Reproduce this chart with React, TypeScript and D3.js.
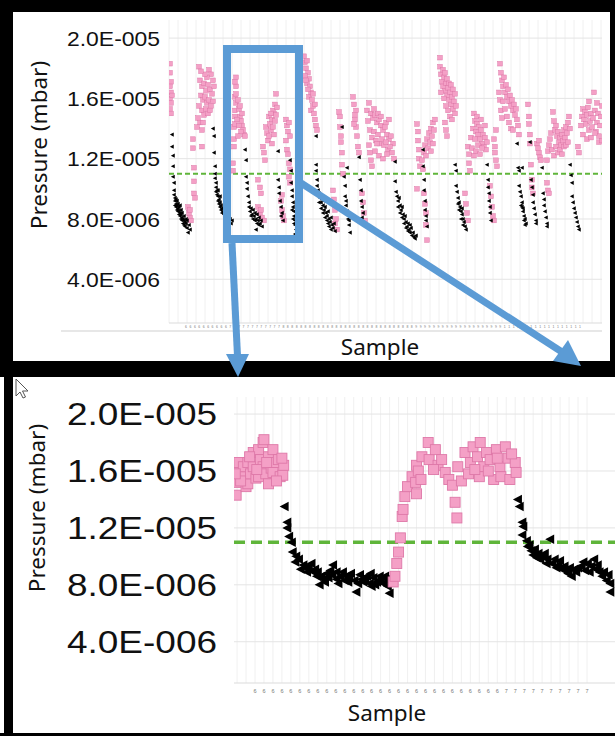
import React, { useEffect, useRef } from "react";
import * as d3 from "d3";

// pressure values are in units of 1E-006 mbar
const yTicks = [4, 8, 12, 16, 20];
const yTickLabels = ["4.0E-006", "8.0E-006", "1.2E-005", "1.6E-005", "2.0E-005"];
const threshold = 11;

const topTickLabels = (
  "6 6 6 6 6 6 6 6 6 6 7 7 7 7 7 7 7 7 7 7 7 7 8 8 8 8 8 8 8 8 8 8 8 8 8 8 8 8 8 8 8 8 8 8 8 8 8 8 8 8 8 8 " +
  "9 9 9 9 9 9 9 9 9 9 9 9 9 9 9 9 9 9 9 9 1 1 1 1 1 1 1 1 1 1 1 1 1 1 1 1 1 1"
).split(" ");
const zoomTickLabels = (
  "6 6 6 6 6 6 6 6 6 6 6 6 6 6 6 6 6 6 6 6 6 6 6 6 6 6 6 6 7 7 7 7 7 7 7 7 7 7"
).split(" ");

// full run: [sample, pressure]
const topPinkPoints = [
  [1,18.3],[1,17.7],[2,17.1],[1,16.8],[2,16.4],[1,16.0],[2,15.7],[1,15.3],[2,15.0],[3,16.2],
  [19,8.8],[20,8.4],[21,8.1],[22,7.9],[21,8.6],[24,13.3],[24,12.7],[25,11.4],[25,10.5],[25,9.7],[26,9.4],
  [30,18.1],[40,17.9],[42,17.6],[38,17.4],[31,17.2],[33,16.8],[35,17.0],[37,16.5],[39,16.9],[41,16.6],
  [43,16.3],[32,16.2],[34,15.9],[36,16.1],[38,15.7],[40,15.9],[42,15.5],[44,15.8],[30,15.5],[33,15.2],
  [35,14.9],[37,15.3],[39,15.0],[29,14.7],[31,14.4],[28,14.1],[34,14.4],[45,16.8],[44,17.2],[36,17.6],
  [32,17.8],[41,15.2],[33,13.9],[33,12.8],
  [64,11.2],[64,11.7],[65,12.8],[65,13.3],[65,14.1],[66,14.3],[66,14.8],[66,15.2],[67,15.7],[66,16.1],
  [67,16.3],[67,16.8],[66,17.1],[67,17.4],[69,15.9],[70,15.3],[71,14.8],[72,14.5],[73,14.2],[74,13.9],
  [75,13.6],[70,14.2],[72,13.8],[68,14.6],[69,13.5],[71,15.5],[73,15.0],[76,13.5],
  [89,8.8],[91,8.4],[93,8.1],[95,7.9],[92,8.6],[89,10.6],[91,10.1],[92,9.7],
  [94,12.8],[95,12.4],[96,11.9],[97,14.1],[98,13.7],[99,13.2],[100,14.8],[101,14.3],[102,13.9],[103,14.6],
  [104,15.2],[105,15.0],[106,15.6],[107,16.3],[104,14.1],[106,14.5],[108,15.4],[102,15.0],[105,13.6],
  [107,14.9],[100,13.5],[103,13.0],
  [112,9.2],[113,8.6],[114,8.2],[115,7.9],[113,9.6],
  [117,14.6],[118,14.2],[119,13.8],[120,14.4],[121,13.5],[118,12.6],[119,12.3],[120,11.7],[121,11.3],
  [120,10.8],[121,10.4],[117,13.2],
  [135,18.8],[136,18.4],[137,18.0],[138,18.5],[139,17.7],[140,17.3],[136,17.5],[138,17.0],[141,16.8],
  [142,16.4],[140,16.1],[143,15.9],[144,15.5],[142,15.2],[145,15.0],[146,14.6],[147,14.2],[148,13.9],
  [139,16.6],[144,16.3],[137,17.2],[146,15.6],
  [164,9.9],[165,9.3],[166,8.6],[167,8.0],[168,7.3],[166,7.7],
  [170,15.1],[171,14.8],[171,14.1],[172,13.5],[172,13.1],[173,12.4],[173,11.6],[174,11.0],
  [184,16.1],[185,15.6],[186,14.9],[186,14.6],[187,14.1],[188,13.5],[189,12.8],[190,12.4],[185,14.3],[187,15.2],
  [193,9.7],[194,9.1],[195,8.4],[196,7.9],
  [200,15.7],[198,15.2],[202,15.0],[204,14.7],[206,14.9],[208,14.4],[210,14.6],[212,14.2],[214,13.9],
  [216,14.1],[218,13.6],[220,13.3],[222,13.5],[224,13.0],[199,14.5],[201,13.9],[203,13.4],[205,13.8],
  [207,13.2],[209,13.6],[211,13.0],[213,13.3],[215,12.9],[217,13.1],[219,12.6],[221,12.8],[223,12.4],
  [225,12.0],[200,12.9],[201,12.4],[202,11.9],[203,11.5],[206,12.5],[210,12.2],[214,12.0],[205,15.3],
  [209,15.0],[212,14.8],[217,14.4],[220,14.6],[208,13.0],[218,12.3],
  [248,14.3],[249,13.8],[249,13.2],[250,12.6],[250,12.0],[251,11.5],[248,10.0],
  [253,11.9],[255,12.4],[256,12.9],[258,13.3],[259,12.7],[260,13.7],[261,13.1],[262,14.0],[263,13.5],
  [264,14.4],[265,13.9],[266,14.6],[257,12.2],[254,11.3],[262,12.5],[264,13.0],
  [255,9.7],[256,9.0],[257,8.4],[257,7.6],[258,6.6],
  [271,18.7],[271,18.1],[272,17.6],[273,17.1],[274,16.8],[275,17.4],[276,16.5],[277,17.0],[278,16.2],
  [279,16.7],[280,15.9],[281,16.4],[282,15.6],[283,16.1],[284,15.3],[285,15.8],[286,15.0],[287,15.5],
  [274,17.9],[276,17.7],[278,17.3],[280,17.0],[282,16.9],[284,16.6],[286,16.3],[275,16.0],[277,15.5],
  [279,15.2],[281,14.8],[283,14.6],[276,14.4],[277,13.9],[278,13.5],[272,16.4],
  [296,9.7],[297,9.0],[298,8.4],[299,7.9],
  [299,12.8],[300,12.3],[300,11.7],[301,11.2],[302,13.4],[304,14.0],[305,15.0],[306,14.5],[307,13.8],
  [308,14.3],[309,13.6],[310,14.1],[311,13.3],[312,13.9],[313,13.0],[314,13.6],[315,12.8],[316,13.4],
  [317,12.6],[318,13.1],[303,12.7],[305,12.2],[307,12.5],[309,12.9],[311,12.3],[313,12.7],[306,13.3],
  [308,14.8],[312,14.6],[316,14.2],
  [321,10.2],[322,9.5],[323,8.8],[324,8.2],[325,7.9],
  [325,13.3],[326,12.8],[326,12.4],[327,11.9],[328,11.5],[327,13.9],
  [331,18.3],[332,17.7],[333,17.2],[334,16.8],[335,17.4],[336,16.4],[337,16.9],[338,16.1],[339,16.6],
  [340,15.8],[341,16.2],[342,15.5],[343,15.9],[344,15.2],[345,15.6],[346,14.9],[347,15.3],[348,14.6],
  [349,14.2],[350,13.6],[330,16.4],[331,15.9],[332,15.2],[333,14.7],[334,15.8],[336,15.3],[338,14.8],
  [340,14.4],[342,14.0],[344,13.9],
  [359,15.6],[360,14.8],[360,14.3],[361,13.6],[361,13.0],[362,11.6],[363,10.6],[363,10.1],[364,9.7],
  [368,13.0],[369,12.7],[370,12.4],[371,12.1],[372,11.9],[370,13.2],
  [378,11.9],[379,12.5],[380,12.9],[381,13.3],[382,13.7],[384,15.1],[385,14.5],[386,13.9],[387,14.2],
  [388,13.5],[389,13.8],[390,13.1],[391,13.4],[392,12.9],[393,13.6],[394,13.2],[395,13.9],[396,13.4],
  [397,14.1],[398,13.7],[399,14.4],[400,14.8],[401,14.0],[383,12.6],[385,12.2],[387,12.8],[389,12.4],
  [391,12.6],[393,12.3],[395,12.8],[397,12.9],[399,13.1],[378,10.4],[379,9.9],[380,9.7],
  [409,12.8],[410,12.4],
  [412,14.2],[413,14.8],[414,15.3],[415,14.6],[416,15.1],[417,14.3],[418,14.9],[419,15.4],[420,13.9],
  [421,14.5],[422,15.0],[423,14.1],[424,14.7],[425,16.4],[426,15.2],[427,13.8],[428,14.4],[429,15.0],
  [430,13.5],[431,14.2],[432,14.8],[433,15.5],[414,13.6],[418,13.3],[422,13.4],[426,13.7],[430,13.1],
  [420,15.8],[428,15.7],[433,13.2],
];

const topBlackPoints = [
  [3,13.6],[3,12.8],[4,12.2],[4,11.5],[4,10.8],[5,10.4],[5,9.9],[5,9.6],[6,9.4],[6,9.2],[7,9.0],[7,9.3],
  [7,8.8],[8,8.9],[8,8.6],[9,8.7],[9,8.5],[9,9.0],[10,8.5],[10,8.3],[10,8.8],[11,8.4],[11,8.2],[12,8.3],
  [12,8.0],[12,8.6],[13,8.1],[13,7.9],[13,8.4],[14,8.0],[14,7.7],[15,7.9],[15,8.2],[15,7.6],[16,7.8],
  [16,7.5],[17,7.7],[17,8.0],[18,7.4],[18,7.9],[19,7.1],[21,7.3],[20,7.6],[6,8.9],[8,9.2],[11,8.9],
  [44,14.0],[45,13.5],[45,12.4],[46,11.5],[46,11.0],[46,10.7],[47,10.4],[47,10.1],[48,9.9],[48,9.6],
  [49,9.5],[49,9.2],[50,9.3],[50,9.0],[51,9.1],[51,8.8],[52,8.9],[52,8.6],[53,8.7],[53,8.4],[54,8.5],
  [55,8.3],[55,8.7],[56,8.2],[57,8.4],[57,8.0],[58,8.1],[59,7.9],[60,8.3],[60,7.8],[61,8.0],[62,7.7],
  [63,7.9],[47,9.8],[49,9.9],[51,9.5],
  [76,12.6],[77,11.9],[77,10.8],[78,10.4],[78,10.0],[79,9.5],[80,8.8],[81,8.5],[82,8.7],[83,8.3],[84,8.6],
  [85,8.2],[86,8.4],[87,8.0],[88,8.3],[89,7.9],[90,8.1],[91,7.7],[92,7.9],[93,7.5],[82,8.2],[84,8.0],
  [86,7.9],[88,7.7],[90,7.6],[87,7.3],[80,9.1],
  [109,12.5],[109,10.6],[110,10.1],[110,9.7],[111,9.2],[112,8.8],[113,8.4],[114,7.9],[112,8.2],
  [121,11.9],[122,11.2],[122,10.4],[123,9.9],[123,9.5],[124,9.1],[124,8.8],[125,8.5],[125,8.2],[126,7.9],
  [126,7.6],[127,7.3],[124,8.0],[125,7.7],[126,7.0],[123,8.6],
  [147,13.5],[147,11.6],[147,11.2],[148,10.6],[148,10.2],[149,9.9],[150,9.7],[151,9.4],[152,9.1],[153,9.3],
  [154,8.9],[155,8.6],[156,8.8],[157,8.4],[158,8.2],[159,8.5],[160,8.0],[161,7.8],[162,8.1],[163,7.6],
  [164,7.4],[165,7.7],[166,7.2],[150,9.1],[152,8.7],[154,8.4],[156,8.1],[158,7.9],[160,7.5],[162,7.3],
  [155,9.2],[159,7.7],
  [173,14.1],[175,10.8],[176,10.2],[176,9.5],[177,8.9],[178,8.5],[179,8.0],[180,7.6],[181,7.1],[178,11.4],
  [177,9.2],[179,8.3],[180,7.9],
  [190,12.1],[191,10.6],[192,9.9],[192,9.2],[193,8.8],[194,8.4],[193,8.1],
  [226,11.8],[226,10.5],[227,9.8],[228,9.5],[229,9.2],[230,9.4],[231,8.9],[232,8.6],[233,8.8],[234,8.3],
  [235,8.0],[236,8.2],[237,7.8],[238,7.5],[239,7.7],[240,7.3],[241,7.1],[242,7.4],[243,6.9],[244,7.1],
  [245,6.8],[246,6.7],[247,6.9],[229,8.8],[231,8.4],[233,8.1],[235,7.7],[237,7.4],[239,7.2],[241,7.6],
  [254,12.6],[254,11.5],[255,10.6],[255,9.9],[256,9.2],[256,8.6],[257,7.9],[258,7.5],[257,8.2],
  [286,11.6],[287,11.2],[287,10.2],[288,9.8],[289,9.4],[290,9.1],[291,8.8],[292,8.5],[293,8.3],[294,8.0],
  [295,7.8],[296,7.5],[297,7.3],[290,8.6],[292,8.0],[294,7.6],[289,9.0],[293,8.7],
  [318,11.6],[319,10.6],[319,10.1],[320,9.7],[320,9.2],[321,8.8],[321,8.4],[322,7.9],
  [348,13.0],[349,11.4],[350,11.2],[350,10.2],[351,9.8],[352,9.5],[353,9.1],[353,8.8],[354,8.5],[355,8.2],
  [356,8.0],[357,7.7],[352,8.9],[354,8.7],[355,7.9],[356,7.6],[353,11.4],
  [361,13.1],[362,10.6],[363,10.1],[364,9.6],[364,9.1],[365,8.7],[366,8.3],[367,7.9],[367,7.7],
  [373,11.4],[374,9.7],[375,9.3],[375,8.9],[376,8.5],[377,8.1],[378,7.7],[378,7.5],
  [401,11.6],[402,10.9],[403,10.4],[403,9.5],[404,9.1],[405,8.7],[406,8.4],[407,8.1],[408,7.8],[409,7.5],[410,7.3],
];

// zoomed section: [sample index, pressure]
const zoomPinkPoints = [
  [-2.1,14.3],[-2.0,15.2],[-1.9,16.0],[-1.8,16.6],[-1.3,15.6],[-1.3,16.3],[-1.0,14.9],[-0.8,16.6],
  [-0.8,15.1],[-0.5,15.8],[-0.2,16.3],[-0.2,17.3],[0.1,15.5],[0.4,15.6],[0.4,17.5],[0.6,16.8],[0.9,18.0],
  [0.9,16.3],[1.0,18.2],[1.2,15.8],[1.5,17.0],[1.5,15.1],[1.8,16.2],[2.0,17.5],[2.0,15.9],[2.3,16.6],
  [2.6,16.8],[2.8,15.6],[3.1,15.7],[3.2,16.4],[-1.6,15.3],[-0.6,17.0],[0.2,16.1],[1.3,16.6],[2.4,15.3],
  [3.0,16.9],[-2.2,15.8],
  [15.4,8.2],[15.6,8.6],[15.8,9.5],[16.0,10.3],[16.2,11.3],[16.4,12.8],[16.5,13.3],[16.7,14.2],[17.0,14.9],
  [17.5,15.6],[18.0,16.4],[17.9,15.2],[18.0,14.4],[18.2,16.0],[18.5,15.4],[18.6,17.0],[19.3,18.0],
  [19.4,16.8],[20.1,17.5],[20.4,16.4],[20.8,16.8],[19.9,16.1],[21.2,15.9],[21.6,15.4],[22.0,15.0],
  [22.3,13.8],[22.5,12.7],[23.0,15.3],[22.6,16.3],[23.4,17.3],[24.0,16.6],[24.3,17.7],[24.8,17.0],
  [25.1,18.0],[25.5,16.3],[25.8,17.3],[26.2,16.8],[26.6,15.4],[26.9,17.5],[27.3,16.3],[27.4,15.6],
  [27.9,17.7],[28.2,16.9],[28.4,15.4],[29.0,16.6],[29.1,15.9],[23.8,15.8],[25.0,15.6],[26.0,16.0],
  [27.0,16.9],[28.6,17.2],[24.5,16.1],
];

const zoomBlackPoints = [
  [3.3,13.5],[3.6,12.4],[3.6,12.0],[3.8,11.4],[4.1,11.0],[4.2,10.3],[4.6,10.0],[4.5,9.6],[4.9,9.8],
  [5.4,9.4],[5.8,8.9],[6.3,9.5],[6.5,8.9],[6.9,8.6],[7.2,8.0],[7.6,8.4],[8.0,8.8],[8.4,9.0],[8.7,9.4],
  [9.1,8.9],[9.1,8.4],[9.5,8.6],[9.8,8.9],[10.2,8.6],[10.4,8.2],[10.7,8.8],[11.1,8.3],[11.3,7.5],
  [11.7,8.7],[12.1,8.2],[12.5,8.6],[12.8,8.1],[13.2,8.5],[13.6,8.2],[13.9,8.6],[14.3,8.1],[14.7,8.4],
  [15.0,7.4],[14.8,7.9],[5.1,9.1],[6.0,9.2],[7.0,8.9],[8.2,8.5],[10.0,8.3],[11.9,8.4],[13.0,7.9],[14.0,8.4],
  [5.6,9.2],[6.7,9.1],[7.4,8.6],[7.8,8.2],[8.6,8.7],[9.3,8.1],[10.5,8.5],[11.5,8.1],[12.3,8.4],[12.9,8.8],
  [13.4,8.0],[14.5,8.6],[14.9,8.2],
  [29.3,14.0],[29.5,13.5],[29.8,12.4],[29.9,12.1],[29.8,11.5],[30.3,11.1],[30.4,10.7],[30.8,10.4],
  [31.2,10.5],[31.0,10.1],[31.6,10.2],[31.8,9.8],[32.1,10.0],[32.5,9.5],[32.6,9.8],[32.9,11.2],
  [33.1,9.5],[33.4,9.8],[33.8,9.4],[34.2,9.1],[34.5,9.3],[34.9,8.8],[35.3,8.6],[35.6,9.1],[36.0,9.2],
  [36.4,9.3],[36.8,9.0],[37.1,9.5],[37.5,9.3],[37.8,9.8],[38.0,9.1],[38.4,8.9],[38.7,8.6],[39.2,8.3],
  [39.6,8.1],[39.6,7.5],[30.6,10.8],[31.4,9.9],[32.3,10.2],[33.6,9.2],[34.0,9.7],[34.7,9.0],[35.1,9.2],
  [35.8,8.9],[36.6,9.6],[37.3,8.9],[38.2,9.4],[38.9,8.9],[39.4,8.7],
];

const panels = [
  {
    key: "full",
    xDomain: [0, 433], xRange: [169, 602],
    plotLeft: 169, plotRight: 602, plotTop: 20, plotBottom: 323,
    gridStep: 9, gridFrom: 0, gridTo: 433,
    tickLabels: topTickLabels, tickFrom: 17, tickTo: 411, tickY: 327.5, tickFont: 3.4,
    axisLine: [61, 331],
    labelRight: 160, labelFont: 21, labelWidth: 93,
    titleX: 39, titleY: 145, titleFont: 22.5,
    sampleX: 380, sampleY: 355,
    pink: topPinkPoints, black: topBlackPoints,
    square: 4.6, tri: 2.2, pinkFirst: true,
    dash: "5,3", dashWidth: 2,
  },
  {
    key: "zoom",
    xDomain: [0, 37], xRange: [255, 587],
    plotLeft: 234, plotRight: 615, plotTop: 397, plotBottom: 683,
    gridStep: 1, gridFrom: -2, gridTo: 37,
    tickLabels: zoomTickLabels, tickFrom: 0, tickTo: 37, tickY: 693, tickFont: 5.5,
    axisLine: null,
    labelRight: 217, labelFont: 31, labelWidth: 150,
    titleX: 37, titleY: 508, titleFont: 22.5,
    sampleX: 387, sampleY: 721,
    pink: zoomPinkPoints, black: zoomBlackPoints,
    square: 10, tri: 5, pinkFirst: false,
    dash: "11,6", dashWidth: 3.5,
  },
];

const App = () => {
  const svgRef = useRef(null);

  useEffect(() => {
    const svg = d3.select(svgRef.current);
    svg.selectAll("*").remove();

    svg.append("rect").attr("width", 615).attr("height", 736).attr("fill", "#fff");

    panels.forEach((p) => {
      const g = svg.append("g").attr("class", p.key);
      const x = d3.scaleLinear().domain(p.xDomain).range(p.xRange);
      const y = d3.scaleLinear().domain([1.1, 21.2]).range([p.plotBottom, p.plotTop]);

      // vertical grid
      g.append("g")
        .selectAll("line")
        .data(d3.range(p.gridFrom, p.gridTo + 0.001, p.gridStep))
        .join("line")
        .attr("x1", (d) => x(d)).attr("x2", (d) => x(d))
        .attr("y1", p.plotTop).attr("y2", p.plotBottom)
        .attr("stroke", "#ececec").attr("stroke-width", 0.8);

      // horizontal grid + labels
      g.append("g")
        .selectAll("line")
        .data(yTicks)
        .join("line")
        .attr("x1", p.plotLeft).attr("x2", p.plotRight)
        .attr("y1", (d) => y(d)).attr("y2", (d) => y(d))
        .attr("stroke", "#e4e4e4").attr("stroke-width", 1);

      g.append("g")
        .selectAll("text")
        .data(yTicks)
        .join("text")
        .attr("x", p.labelRight)
        .attr("y", (d) => y(d))
        .attr("dy", "0.36em")
        .attr("text-anchor", "end")
        .attr("textLength", p.labelWidth)
        .attr("lengthAdjust", "spacingAndGlyphs")
        .attr("font-family", "Liberation Sans, Arial, sans-serif")
        .attr("font-size", p.labelFont)
        .attr("fill", "#111")
        .text((d, i) => yTickLabels[i]);

      // plot bottom line
      g.append("line")
        .attr("x1", p.plotLeft).attr("x2", p.plotRight)
        .attr("y1", p.plotBottom).attr("y2", p.plotBottom)
        .attr("stroke", "#dcdcdc").attr("stroke-width", 1.2);
      if (p.axisLine) {
        g.append("line")
          .attr("x1", p.axisLine[0]).attr("x2", p.plotRight)
          .attr("y1", p.axisLine[1]).attr("y2", p.axisLine[1])
          .attr("stroke", "#cfcfcf").attr("stroke-width", 1.2);
      }

      // x tick labels
      const xt = d3.scalePoint()
        .domain(d3.range(p.tickLabels.length))
        .range([x(p.tickFrom), x(p.tickTo)]);
      g.append("g")
        .selectAll("text")
        .data(p.tickLabels)
        .join("text")
        .attr("x", (d, i) => xt(i))
        .attr("y", p.tickY)
        .attr("text-anchor", "middle")
        .attr("font-family", "Liberation Sans, Arial, sans-serif")
        .attr("font-size", p.tickFont)
        .attr("fill", "#777")
        .text((d) => d);

      // titles
      g.append("text")
        .attr("transform", `translate(${p.titleX},${p.titleY}) rotate(-90)`)
        .attr("dy", "0.35em")
        .attr("text-anchor", "middle")
        .attr("font-family", "Noto Sans, Open Sans, sans-serif")
        .attr("font-size", p.titleFont)
        .attr("fill", "#111")
        .text("Pressure (mbar)");
      g.append("text")
        .attr("x", p.sampleX)
        .attr("y", p.sampleY)
        .attr("text-anchor", "middle")
        .attr("font-family", "Noto Sans, Open Sans, sans-serif")
        .attr("font-size", p.titleFont)
        .attr("fill", "#111")
        .text("Sample");

      // threshold
      g.append("line")
        .attr("x1", p.plotLeft).attr("x2", p.plotRight)
        .attr("y1", y(threshold)).attr("y2", y(threshold))
        .attr("stroke", "#5fb53a")
        .attr("stroke-width", p.dashWidth)
        .attr("stroke-dasharray", p.dash);

      const clip = `clip-${p.key}`;
      g.append("clipPath").attr("id", clip)
        .append("rect")
        .attr("x", p.plotLeft).attr("y", p.plotTop)
        .attr("width", p.plotRight - p.plotLeft).attr("height", p.plotBottom - p.plotTop);
      const marks = g.append("g").attr("clip-path", `url(#${clip})`);

      const drawPink = () =>
        marks.append("g")
          .selectAll("rect")
          .data(p.pink)
          .join("rect")
          .attr("x", (d) => x(d[0]) - p.square / 2)
          .attr("y", (d) => y(d[1]) - p.square / 2)
          .attr("width", p.square)
          .attr("height", p.square)
          .attr("fill", "#f4a0c6")
          .attr("stroke", "#de78a8")
          .attr("stroke-width", p.square > 6 ? 0.9 : 0.5);

      const t = p.tri;
      const drawBlack = () =>
        marks.append("g")
          .selectAll("path")
          .data(p.black)
          .join("path")
          .attr("transform", (d) => `translate(${x(d[0])},${y(d[1])})`)
          .attr("d", `M${-t},0L${t * 0.8},${-t * 0.95}L${t * 0.8},${t * 0.95}Z`)
          .attr("fill", "#000");

      if (p.pinkFirst) { drawPink(); drawBlack(); } else { drawBlack(); drawPink(); }
    });

    // black frame
    const frame = [
      [0, 0, 615, 12], [0, 0, 13, 377], [610, 0, 5, 377],
      [0, 361, 615, 16], [4, 377, 9, 359], [0, 733, 615, 3],
    ];
    svg.append("g")
      .selectAll("rect")
      .data(frame)
      .join("rect")
      .attr("x", (d) => d[0]).attr("y", (d) => d[1])
      .attr("width", (d) => d[2]).attr("height", (d) => d[3])
      .attr("fill", "#000");

    // cursor
    svg.append("path")
      .attr("d", "M16,379 L16,396 L20,392 L23,398 L25.5,397 L22.5,391 L28,391 Z")
      .attr("fill", "#fff").attr("stroke", "#555").attr("stroke-width", 1);

    // blue callout
    const blue = "#5b9bd5";
    const callout = svg.append("g");
    callout.append("rect")
      .attr("x", 227).attr("y", 49).attr("width", 72).attr("height", 190)
      .attr("fill", "none").attr("stroke", blue).attr("stroke-width", 8);
    callout.append("line")
      .attr("x1", 232).attr("y1", 243).attr("x2", 237.5).attr("y2", 356)
      .attr("stroke", blue).attr("stroke-width", 7);
    callout.append("path").attr("d", "M226,354 L249,354 L238,377 Z").attr("fill", blue);
    callout.append("line")
      .attr("x1", 301).attr("y1", 183).attr("x2", 562).attr("y2", 352)
      .attr("stroke", blue).attr("stroke-width", 7);
    callout.append("path").attr("d", "M553,361 L568,340 L581,366 Z").attr("fill", blue);
  }, []);

  return (
    <svg
      ref={svgRef}
      width={615}
      height={736}
      style={{ position: "absolute", left: 0, top: 0, display: "block" }}
    />
  );
};

export default App;
